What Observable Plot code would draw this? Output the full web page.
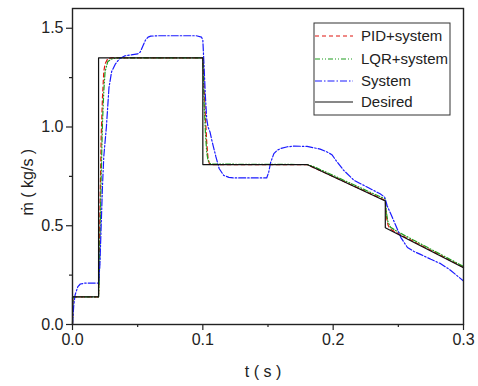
<!DOCTYPE html>
<html>
<head>
<meta charset="utf-8">
<script src="https://cdn.jsdelivr.net/npm/d3@7"></script>
<script src="https://cdn.jsdelivr.net/npm/@observablehq/plot@0.6"></script>
<style>
  html, body { margin: 0; padding: 0; background: #fff; }
  #chart { width: 478px; height: 386px; }
</style>
</head>
<body>
<div id="chart"></div>
<script>
// ---- data ----
const xTicks = [0, 0.1, 0.2, 0.3];
const xMinor = [0.05, 0.15, 0.25];
const yTicks = [0, 0.5, 1.0, 1.5];
const yMinor = [0.25, 0.75, 1.25];
const seriesNames = ["PID+system", "LQR+system", "System", "Desired"];

const desiredT = [0, 0, 0.02, 0.02, 0.1, 0.1, 0.18, 0.24, 0.24, 0.3];
const desiredV = [0, 0.14, 0.14, 1.35, 1.35, 0.81, 0.81, 0.625, 0.49, 0.287];

const pidT = [0, 0.0005, 0.02, 0.0205, 0.021, 0.0215, 0.022, 0.023, 0.024, 0.025, 0.027, 0.03,
  0.1, 0.1005, 0.101, 0.102, 0.103, 0.104, 0.105, 0.107, 0.18, 0.24, 0.2405, 0.241, 0.242, 0.243, 0.245, 0.25, 0.3];
const pidV = [0, 0.14, 0.14, 0.3, 0.55, 0.75, 0.95, 1.15, 1.28, 1.32, 1.345, 1.35,
  1.35, 1.3, 1.2, 1.05, 0.92, 0.84, 0.815, 0.81, 0.81, 0.628, 0.58, 0.54, 0.505, 0.492, 0.478, 0.46, 0.29];

const lqrT = [0, 0.0005, 0.02, 0.0205, 0.021, 0.022, 0.023, 0.024, 0.025, 0.027, 0.03, 0.035,
  0.1, 0.1005, 0.101, 0.102, 0.103, 0.104, 0.106, 0.18, 0.185, 0.24, 0.2405, 0.241, 0.242, 0.244, 0.25, 0.3];
const lqrV = [0, 0.14, 0.14, 0.22, 0.4, 0.75, 1.02, 1.18, 1.28, 1.33, 1.345, 1.35,
  1.35, 1.25, 1.12, 0.97, 0.87, 0.83, 0.812, 0.81, 0.8, 0.635, 0.6, 0.56, 0.52, 0.492, 0.468, 0.294];

const sysT = [0, 0.001, 0.002, 0.004, 0.006, 0.01, 0.02, 0.021, 0.022, 0.023, 0.024, 0.026, 0.028, 0.03,
  0.033, 0.036, 0.04, 0.045, 0.05, 0.052, 0.054, 0.056, 0.058, 0.06, 0.065, 0.08, 0.095, 0.099,
  0.1, 0.101, 0.102, 0.103, 0.104, 0.1055, 0.107, 0.11, 0.1125, 0.116, 0.12, 0.124, 0.149, 0.1505,
  0.152, 0.1545, 0.157, 0.16, 0.165, 0.17, 0.18, 0.19, 0.195, 0.199, 0.203, 0.208, 0.216, 0.226,
  0.236, 0.2395, 0.2415, 0.2455, 0.252, 0.257, 0.262, 0.267, 0.275, 0.2825, 0.29, 0.3];
const sysV = [0, 0.1, 0.15, 0.19, 0.205, 0.21, 0.21, 0.3, 0.5, 0.7, 0.85, 1.0, 1.2, 1.28,
  1.32, 1.345, 1.36, 1.365, 1.37, 1.38, 1.41, 1.44, 1.455, 1.46, 1.462, 1.462, 1.462, 1.455,
  1.44, 1.3, 1.15, 1.04, 1.0, 0.975, 0.93, 0.85, 0.79, 0.755, 0.745, 0.742, 0.742, 0.77,
  0.82, 0.865, 0.882, 0.892, 0.9, 0.903, 0.902, 0.888, 0.875, 0.86, 0.823, 0.781, 0.73, 0.696,
  0.662, 0.645, 0.6, 0.54, 0.44, 0.39, 0.37, 0.355, 0.33, 0.308, 0.275, 0.22];

// ---- build rows ----
const rows = (T, V) => T.map((t, i) => ({t, v: V[i]}));
const styles = [
  {name: seriesNames[0], data: rows(pidT, pidV), stroke: "#e0140f", dash: "4,3"},
  {name: seriesNames[1], data: rows(lqrT, lqrV), stroke: "#1e9e1e", dash: "5,2,1,2,1,2"},
  {name: seriesNames[2], data: rows(sysT, sysV), stroke: "#1a1aff", dash: "7,2,1.5,2"},
  {name: seriesNames[3], data: rows(desiredT, desiredV), stroke: "#111", dash: null}
];

const plot = Plot.plot({
  width: 478,
  height: 386,
  marginLeft: 72,
  marginRight: 15,
  marginTop: 8,
  marginBottom: 62,
  style: {fontFamily: "'Liberation Sans', Arial, sans-serif", fontSize: "16px", color: "#222", background: "#fff"},
  x: {domain: [0, 0.3], label: null},
  y: {domain: [0, 1.6], label: null},
  marks: [
    Plot.axisX({ticks: xTicks, tickFormat: d3.format(".1f"), tickSize: 6, tickPadding: 3, label: null, strokeWidth: 1.2}),
    Plot.axisX({ticks: xMinor, tickFormat: () => "", tickSize: 3, label: null, strokeWidth: 1.2}),
    Plot.axisY({ticks: yTicks, tickFormat: d3.format(".1f"), tickSize: 6, tickPadding: 3, label: null, strokeWidth: 1.2}),
    Plot.axisY({ticks: yMinor, tickFormat: () => "", tickSize: 3, label: null, strokeWidth: 1.2}),
    ...styles.map(s => Plot.line(s.data, {x: "t", y: "v", stroke: s.stroke, strokeWidth: 1.2,
      strokeDasharray: s.dash == null ? undefined : s.dash})),
    Plot.frame({stroke: "#222", strokeWidth: 1.4}),
    Plot.text(["ṁ ( kg/s )"], {frameAnchor: "left", dx: -45, dy: 49, rotate: -90, fontSize: 16, fill: "#222"}),
    Plot.text(["t ( s )"], {frameAnchor: "bottom", dx: -5, dy: 52, fontSize: 16, fill: "#222"})
  ]
});

document.getElementById("chart").appendChild(plot);

// ---- legend inside the frame ----
const svg = d3.select(plot);
const lg = svg.append("g").attr("font-family", "'Liberation Sans', Arial, sans-serif")
  .attr("font-size", 15).attr("text-anchor", "start");
lg.append("rect").attr("x", 314).attr("y", 23).attr("width", 136).attr("height", 92)
  .attr("fill", "#fff").attr("stroke", "#333").attr("stroke-width", 1);
const rowY = [36, 59, 81, 102];
styles.forEach((s, i) => {
  lg.append("line").attr("x1", 315).attr("x2", 353).attr("y1", rowY[i]).attr("y2", rowY[i])
    .attr("stroke", s.stroke).attr("stroke-width", 1.2)
    .attr("stroke-dasharray", s.dash);
  lg.append("text").attr("x", 361).attr("y", rowY[i]).attr("dy", "0.35em")
    .attr("text-anchor", "start").attr("fill", "#222").text(s.name);
});
</script>
</body>
</html>
